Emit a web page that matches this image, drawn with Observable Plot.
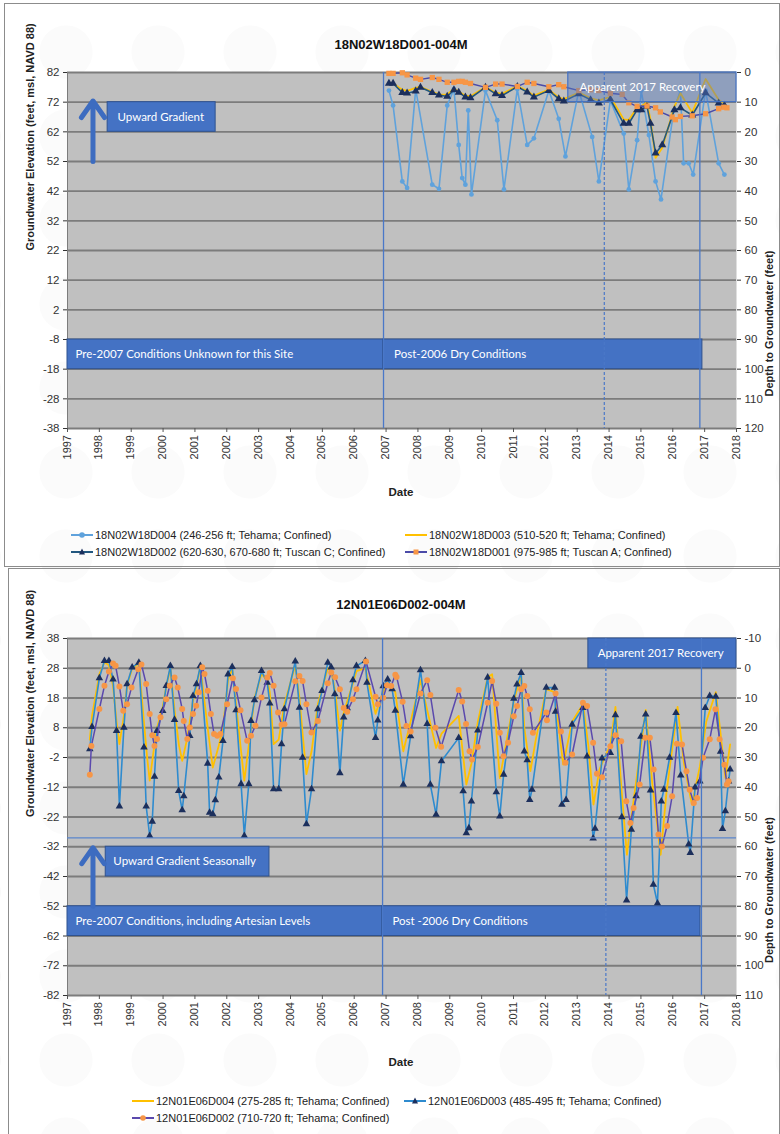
<!DOCTYPE html>
<html><head><meta charset="utf-8">
<script src="https://cdn.jsdelivr.net/npm/d3@7"></script>
<script src="https://cdn.jsdelivr.net/npm/@observablehq/plot@0.6"></script>
<style>
body{margin:0;width:780px;height:1134px;position:relative;overflow:hidden;background-color:#fff;
 background-image:radial-gradient(circle, #f5f5f5 0 26px, transparent 27px);background-size:92px 84px;background-position:20px 10px;
 font-family:"Liberation Sans",Arial,sans-serif}
.panel{position:absolute;border:1px solid #8c8c8c;box-sizing:border-box;background:rgba(255,255,255,0.55)}
.title{position:absolute;font-weight:bold;font-size:13px;text-align:center;color:#111;width:300px}
.date{position:absolute;font-weight:bold;font-size:11.5px;text-align:center;color:#222;width:100px}
.leg{position:absolute;font-size:11px;color:#222;display:flex;align-items:center;white-space:nowrap;height:14px}
.leg svg{margin-right:1px}
.chart{position:absolute;left:0;width:780px;height:480px}
.chart svg{position:absolute;left:0;top:0}
.yl{position:absolute;width:13px;line-height:13px;font-size:11px;color:#333;white-space:nowrap;writing-mode:vertical-rl;transform:rotate(180deg)}
</style></head><body>
<div class="panel" style="left:4px;top:3px;width:776px;height:564px"></div>
<div class="panel" style="left:8px;top:568px;width:772px;height:570px"></div>
<div id="top" class="chart" style="top:0px"></div>
<div id="bot" class="chart" style="top:568px"></div>
<div class="title" style="left:251px;top:37px">18N02W18D001-004M</div>
<div class="title" style="left:251px;top:597px">12N01E06D002-004M</div>
<div class="date" style="left:351px;top:486px">Date</div>
<div class="date" style="left:351px;top:1056px">Date</div>
<div id="legends"></div>
<script>
// ---------- shared axis ticks ----------
const yearLabels = ["1997","1998","1999","2000","2001","2002","2003","2004","2005","2006","2007","2008","2009","2010","2011","2012","2013","2014","2015","2016","2017","2018"];
const topElevTicks = [82,72,62,52,42,32,22,12,2,-8,-18,-28,-38];
const topDepthLabels = ["0","10","20","30","40","50","60","70","80","90","100","110","120"];
const botElevTicks = [38,28,18,8,-2,-12,-22,-32,-42,-52,-62,-72,-82];
const botDepthLabels = ["-10","0","10","20","30","40","50","60","70","80","90","100","110"];

// ---------- top chart series: [decimal year, elevation ft] ----------
const top_D004 = [[2007.09,75.9],[2007.22,70.9],[2007.51,45.3],[2007.66,43.1],[2007.93,76.4],[2008.45,44.2],[2008.66,42.8],[2008.92,70.9],[2009.13,76.4],[2009.28,57.6],[2009.39,46.4],[2009.49,44.2],[2009.58,69.2],[2009.68,40.9],[2010.12,75.9],[2010.49,65.9],[2010.7,42.6],[2011.12,76.4],[2011.43,57.6],[2011.64,59.8],[2012.11,75.9],[2012.42,66.4],[2012.63,53.7],[2013.05,75.9],[2013.47,60.3],[2013.68,45.3],[2014.04,72.6],[2014.46,61.4],[2014.62,42.6],[2014.88,59.2],[2015.01,75.9],[2015.25,60.9],[2015.46,45.3],[2015.63,39.2],[2016.03,69.2],[2016.24,75.9],[2016.34,51.4],[2016.5,51.4],[2016.64,47.6],[2017.03,75.9],[2017.44,51.4],[2017.62,47.6]];
const top_D003 = [[2007.09,78.5],[2007.22,78.3],[2007.51,76.2],[2007.66,75.8],[2007.93,76.8],[2008.08,77.2],[2008.45,75.5],[2008.66,74.6],[2008.92,74.5],[2009.13,76.6],[2009.28,75.6],[2009.49,74.2],[2009.65,74.0],[2010.12,77.1],[2010.44,75.2],[2010.64,74.8],[2011.12,77.4],[2011.43,75.8],[2011.64,74.2],[2012.11,76.2],[2012.42,73.6],[2012.58,73.0],[2013.05,75.2],[2013.42,73.4],[2013.68,72.6],[2014.04,73.8],[2014.46,66.2],[2014.62,66.0],[2014.88,70.2],[2015.01,70.6],[2015.19,72.0],[2015.3,66.0],[2015.46,53.2],[2015.67,56.6],[2016.05,70.5],[2016.24,75.0],[2016.61,68.4],[2017.03,79.8],[2017.44,72.8],[2017.62,71.5]];
const top_D002 = [[2007.09,78.3],[2007.22,78.3],[2007.51,75.2],[2007.66,75.0],[2007.93,75.7],[2008.08,77.0],[2008.45,75.2],[2008.66,74.4],[2008.92,73.9],[2009.13,76.1],[2009.28,75.3],[2009.49,73.7],[2009.65,73.4],[2010.12,77.0],[2010.44,74.8],[2010.64,74.2],[2011.12,77.2],[2011.43,75.4],[2011.64,73.7],[2012.11,75.9],[2012.42,73.1],[2012.58,72.3],[2013.05,74.8],[2013.42,72.8],[2013.68,71.7],[2014.04,72.9],[2014.46,64.8],[2014.62,64.8],[2014.88,69.4],[2015.01,69.4],[2015.19,70.6],[2015.3,64.8],[2015.46,54.8],[2015.67,57.6],[2016.05,69.4],[2016.24,70.1],[2016.61,67.6],[2017.03,75.1],[2017.44,71.7],[2017.62,70.9]];
const top_D001 = [[2007.09,81.7],[2007.22,81.7],[2007.51,81.9],[2007.66,81.2],[2007.93,80.1],[2008.08,79.7],[2008.45,80.3],[2008.66,79.7],[2008.92,78.7],[2009.13,78.7],[2009.28,79.0],[2009.39,79.0],[2009.49,78.7],[2009.65,78.3],[2010.12,77.0],[2010.44,78.1],[2010.64,78.1],[2011.12,77.3],[2011.43,78.7],[2011.64,78.3],[2012.11,77.2],[2012.42,77.9],[2012.58,77.2],[2013.05,75.9],[2013.42,76.2],[2013.68,75.9],[2014.04,75.0],[2014.41,74.6],[2014.62,71.8],[2014.88,70.6],[2015.19,70.7],[2015.46,70.1],[2015.61,68.7],[2015.98,67.0],[2016.08,66.1],[2016.24,67.2],[2016.61,67.4],[2017.03,68.1],[2017.44,69.8],[2017.6,70.3],[2017.7,70.1]];

// ---------- bottom chart series ----------
const bot_D004 = [[1997.70,4],[1997.77,12],[1998.00,26],[1998.16,30],[1998.30,29],[1998.43,22],[1998.54,10],[1998.63,2.5],[1998.77,12],[1998.87,22],[1999.03,28],[1999.24,29.5],[1999.40,10],[1999.50,-2],[1999.58,-9.8],[1999.70,0],[1999.81,8],[1999.99,15],[2000.10,22],[2000.23,28],[2000.36,14],[2000.50,2],[2000.60,-3.1],[2000.75,4],[2000.94,17],[2001.05,22],[2001.17,28.5],[2001.40,8],[2001.56,-5.4],[2001.75,2],[2001.88,8],[2002.04,24],[2002.17,28],[2002.29,16],[2002.45,0],[2002.55,-9.8],[2002.69,2],[2002.87,18],[2003.09,26],[2003.27,24],[2003.35,20],[2003.47,2.5],[2003.63,4],[2003.81,16],[2004.15,29],[2004.28,18],[2004.38,6],[2004.50,-7.6],[2004.66,0],[2004.86,16],[2005.17,28],[2005.28,27],[2005.39,21],[2005.55,7],[2005.67,13],[2005.96,23],[2006.07,27],[2006.35,28],[2006.67,12.7],[2006.91,20],[2007.05,23],[2007.29,20],[2007.54,0.1],[2007.77,10],[2008.08,24],[2008.29,14],[2008.57,1.2],[2008.74,6],[2009.28,12],[2009.52,-11.1],[2009.68,-4],[2009.88,10],[2010.19,25],[2010.33,26],[2010.57,-8.9],[2010.69,-2],[2011.01,17],[2011.24,26],[2011.34,8],[2011.53,-6.6],[2011.7,4],[2012.03,21],[2012.29,20],[2012.56,-4.4],[2012.84,10],[2013.18,16],[2013.35,2],[2013.51,-17.8],[2013.7,-6],[2013.9,-1],[2014.04,2],[2014.2,15],[2014.4,-14],[2014.56,-34.7],[2014.7,-22],[2014.85,-10],[2015.15,14],[2015.35,-10],[2015.62,-34.7],[2015.8,-14],[2016.15,15],[2016.35,-4],[2016.6,-17.8],[2016.85,-5],[2017.05,10],[2017.35,20],[2017.5,6],[2017.65,-8.9],[2017.8,2.4]];
const bot_D003 = [[1997.70,0.8],[1997.77,8.3],[1998.00,24.7],[1998.16,30.5],[1998.30,30.5],[1998.43,24.3],[1998.54,7],[1998.63,-18.4],[1998.77,8.1],[1998.87,22.7],[1999.03,28.3],[1999.24,29.9],[1999.40,1.4],[1999.47,-18.4],[1999.58,-28.3],[1999.66,-23.5],[1999.73,-8.4],[1999.81,7],[1999.99,13.7],[2000.10,22.1],[2000.23,28.8],[2000.36,10.7],[2000.49,-13.2],[2000.60,-19.7],[2000.65,-15],[2000.84,5.3],[2000.94,18.7],[2001.05,22.7],[2001.17,28.8],[2001.40,-4],[2001.46,-20.5],[2001.56,-21],[2001.64,-16.3],[2001.75,-8.7],[2001.88,3.6],[2002.04,26],[2002.17,28.5],[2002.29,13.9],[2002.45,-10.9],[2002.55,-28.3],[2002.69,-10.9],[2002.76,10.3],[2002.87,17.3],[2003.09,27.1],[2003.27,23.2],[2003.35,16.2],[2003.47,-12.6],[2003.63,-12.6],[2003.72,2.5],[2003.81,14.3],[2004.15,30.3],[2004.28,14.8],[2004.38,-2],[2004.50,-24.4],[2004.66,-12.6],[2004.86,14.3],[2004.99,20.4],[2005.17,29.9],[2005.28,28.3],[2005.39,19.3],[2005.55,-7.2],[2005.67,11.5],[2005.78,14.6],[2005.96,24],[2006.07,28.8],[2006.35,30.5],[2006.40,23.2],[2006.67,4.6],[2006.74,10.5],[2006.91,22],[2007.05,24.3],[2007.19,21],[2007.29,13.8],[2007.54,-11.1],[2007.77,5.2],[2008.08,27.4],[2008.29,9.3],[2008.39,-11.1],[2008.57,-21.2],[2008.74,-3.2],[2009.28,4.6],[2009.42,-13.3],[2009.52,-27.4],[2009.60,-25.7],[2009.68,-16.7],[2009.88,7.1],[2010.19,24.9],[2010.46,-13.6],[2010.57,-21.8],[2010.69,-7.7],[2011.01,17.8],[2011.11,22.6],[2011.24,26.5],[2011.34,0.1],[2011.43,-2.9],[2011.51,-16.2],[2011.58,-12.8],[2012.03,21.5],[2012.29,21.5],[2012.32,13.4],[2012.52,-17.8],[2012.65,-16.2],[2012.84,9.1],[2013.18,14.7],[2013.31,-1.6],[2013.50,-29.2],[2013.56,-25.9],[2013.78,-2.3],[2014.04,-0.4],[2014.2,12.3],[2014.4,-22],[2014.55,-50],[2014.7,-26.2],[2014.85,-15],[2015.0,5],[2015.15,12.5],[2015.3,-13],[2015.39,-44.7],[2015.52,-51],[2015.64,-16.7],[2015.72,-12.8],[2015.9,-2],[2016.1,13],[2016.25,-8],[2016.5,-31.2],[2016.55,-34],[2016.7,-12],[2016.85,-10],[2017.02,14.7],[2017.16,18.7],[2017.35,18.5],[2017.5,0],[2017.56,-26],[2017.65,-20],[2017.75,-10],[2017.8,-6]];
const bot_D002 = [[1997.70,-7.8],[1997.75,1.9],[1998.00,14.3],[1998.16,22.1],[1998.30,26.9],[1998.43,29.6],[1998.51,28.8],[1998.63,21.9],[1998.75,13.7],[1998.87,15.9],[1999.01,21.5],[1999.22,27.7],[1999.32,29.3],[1999.47,22.7],[1999.58,12.6],[1999.66,5.5],[1999.73,1.9],[1999.81,4.2],[1999.92,11.5],[2000.10,17.6],[2000.21,22.1],[2000.36,24.9],[2000.46,21.5],[2000.60,14.3],[2000.65,10.3],[2000.76,4.2],[2000.84,8.1],[2000.94,12.6],[2001.04,15.4],[2001.12,19.9],[2001.23,28.3],[2001.30,26.1],[2001.40,20.4],[2001.50,12.6],[2001.60,5.9],[2001.70,5.3],[2001.80,5.9],[2002.01,15.9],[2002.19,24.6],[2002.29,21],[2002.43,13.9],[2002.64,3.6],[2002.76,5.3],[2002.9,8.7],[2003.09,18.2],[2003.27,24.9],[2003.35,26.4],[2003.47,22.1],[2003.61,13.1],[2003.72,9],[2003.81,9.2],[2004.15,23.6],[2004.28,25.4],[2004.38,23.7],[2004.5,15.9],[2004.66,6.4],[2004.86,10.3],[2005.17,23],[2005.28,26.6],[2005.4,25],[2005.55,20.9],[2005.67,14.6],[2005.78,13.4],[2005.96,17.6],[2006.07,20.9],[2006.37,30.3],[2006.67,18.4],[2006.74,15.9],[2006.91,18.1],[2007.03,22.3],[2007.16,22],[2007.29,25.8],[2007.33,25.1],[2007.52,16.7],[2007.64,8.6],[2007.77,6.7],[2008.08,19.5],[2008.29,24],[2008.39,19],[2008.55,8],[2008.73,1.6],[2009.28,20.7],[2009.39,16.8],[2009.51,9.3],[2009.62,0.1],[2009.70,-2.7],[2009.88,1.5],[2010.19,16.4],[2010.33,23.7],[2010.46,16.1],[2010.57,6.3],[2010.69,-1.6],[2010.83,3],[2011.01,11.9],[2011.11,15.3],[2011.24,20.9],[2011.34,22],[2011.43,18.7],[2011.51,14.2],[2011.61,6.3],[2012.03,13.1],[2012.05,10.5],[2012.32,19.5],[2012.49,6.7],[2012.63,-3.8],[2012.84,-1],[2013.18,16.4],[2013.31,15.3],[2013.5,3],[2013.62,-7.5],[2013.78,-8.6],[2014.04,1.8],[2014.2,5.5],[2014.38,3.5],[2014.54,-16.7],[2014.67,-24],[2014.77,-19],[2014.96,-11.1],[2015.14,4.6],[2015.28,4.6],[2015.4,-6],[2015.55,-27.9],[2015.66,-31.9],[2015.82,-25],[2015.98,-15],[2016.13,2.6],[2016.29,2.4],[2016.43,-6.6],[2016.53,-12.8],[2016.66,-17.3],[2016.76,-15.6],[2016.95,-2.1],[2017.16,4.1],[2017.34,14.2],[2017.47,4.1],[2017.62,-4.4],[2017.7,-11.1],[2017.75,-10]];

// ---------- annotations (data units: year, elevation) ----------
const topSolidBoxes = [{x1:1998.26,x2:2001.65,y1:62,y2:72},{x1:1997,x2:2006.92,y1:-18,y2:-8},{x1:2006.92,x2:2016.93,y1:-18,y2:-8}];
const topGlassBoxes = [{x1:2012.72,x2:2018,y1:72,y2:82}];
const topLabels = [{x:1998.57,y:67,text:"Upward Gradient",anchor:"start"},{x:1997.25,y:-13,text:"Pre-2007 Conditions Unknown for this Site",anchor:"start"},{x:2007.25,y:-13,text:"Post-2006 Dry Conditions",anchor:"start"},{x:2015.05,y:77,text:"Apparent 2017 Recovery",anchor:"middle"}];
const topArrows = [{x:1997.8,y1:52,y2:72.4}];
const topRulesSolid = [2006.92,2016.85];
const topRulesDashed = [2013.85];
const topHRules = [];

const botSolidBoxes = [{x1:2013.35,x2:2018,y1:28,y2:38},{x1:1998.2,x2:2003.34,y1:-42,y2:-32},{x1:1997,x2:2006.89,y1:-62,y2:-52},{x1:2006.89,x2:2016.87,y1:-62,y2:-52}];
const botGlassBoxes = [];
const botLabels = [{x:2015.62,y:33,text:"Apparent 2017 Recovery",anchor:"middle"},{x:1998.44,y:-37,text:"Upward Gradient Seasonally",anchor:"start"},{x:1997.25,y:-57,text:"Pre-2007 Conditions, including Artesian Levels",anchor:"start"},{x:2007.2,y:-57,text:"Post -2006 Dry Conditions",anchor:"start"}];
const botArrows = [{x:1997.8,y1:-52,y2:-32.3}];
const botRulesSolid = [2006.89,2016.9];
const botRulesDashed = [2013.9];
const botHRules = [-29];

// ---------- series styles ----------
const topSeries = [
  {data:top_D004, name:"18N02W18D004 (246-256 ft; Tehama; Confined)", line:"#5fa2dc", w:1.6, symbol:"circle", mfill:"#5fa2dc", r:2.4},
  {data:top_D003, name:"18N02W18D003 (510-520 ft; Tehama; Confined)", line:"#ffc000", w:1.8, symbol:null},
  {data:top_D002, name:"18N02W18D002 (620-630, 670-680 ft; Tuscan C; Confined)", line:"#22577f", w:1.6, symbol:"triangle", mfill:"#1c2f5c", r:3},
  {data:top_D001, name:"18N02W18D001 (975-985 ft; Tuscan A; Confined)", line:"#4b4ba8", w:1.4, symbol:"square", mfill:"#f79646", r:3}
];
const botSeries = [
  {data:bot_D004, name:"12N01E06D004 (275-285 ft; Tehama; Confined)", line:"#ffc000", w:1.8, symbol:null},
  {data:bot_D003, name:"12N01E06D003 (485-495 ft; Tehama; Confined)", line:"#2e8bcf", w:1.6, symbol:"triangle", mfill:"#1c2f5c", r:2.8},
  {data:bot_D002, name:"12N01E06D002 (710-720 ft; Tehama; Confined)", line:"#5b49ad", w:1.5, symbol:"circle", mfill:"#f79646", r:3}
];

const FONT = '"Liberation Sans", Arial, sans-serif';
const NOTE_FONT = 'Lato, "Open Sans", sans-serif';
const yearTicks = yearLabels.map(Number);

function chart(o) {
  const yBottom = o.ticks[o.ticks.length-1];
  const marks = [
    Plot.frame({fill:"#c0c0c0"}),
    Plot.ruleY(o.ticks, {stroke:"#7c7c7c", strokeWidth:1.8}),
    Plot.ruleX([1997], {stroke:"#7c7c7c", strokeWidth:1}),
    Plot.ruleX(yearTicks, {y1:yBottom, y2:yBottom, insetBottom:-4, stroke:"#555", strokeWidth:1}),
    Plot.axisY(o.ticks, {anchor:"left", tickSize:4, tickPadding:4, tickFormat:d => String(d), fontSize:11.5, fill:"#333", label:null}),
    Plot.axisY(o.ticks, {anchor:"right", tickSize:4, tickPadding:4, tickFormat:d => o.depth[o.ticks.indexOf(d)], fontSize:11.5, fill:"#333", label:null}),
    Plot.text(["Groundwater Elevation (feet, msl, NAVD 88)"], {frameAnchor:"left", text:d => d, rotate:-90, dx:-37, fontWeight:"bold", fontSize:11, fill:"#222"}),
    Plot.text(["Depth to Groundwater (feet)"], {frameAnchor:"right", text:d => d, rotate:-90, dx:33, fontWeight:"bold", fontSize:11, fill:"#222"})
  ];
  for (const s of o.series) {
    marks.push(Plot.line(s.data, {x:d => d[0], y:d => d[1], stroke:s.line, strokeWidth:s.w}));
    if (s.symbol) marks.push(Plot.dot(s.data, {x:d => d[0], y:d => d[1], symbol:s.symbol, r:s.r, fill:s.mfill, stroke:"none"}));
  }
  marks.push(
    Plot.rect(o.solid, {x1:"x1", x2:"x2", y1:"y1", y2:"y2", fill:"#4472c4", stroke:"#2f528f", strokeWidth:1}),
    Plot.rect(o.glass, {x1:"x1", x2:"x2", y1:"y1", y2:"y2", fill:"#5577bb", fillOpacity:0.45, stroke:"#4472c4", strokeWidth:1.2}),
    Plot.ruleY(o.hrules, {stroke:"#5a86cc", strokeWidth:1.3}),
    Plot.ruleX(o.rulesSolid, {stroke:"#4a78c8", strokeWidth:1.3}),
    Plot.ruleX(o.rulesDashed, {stroke:"#4a78c8", strokeWidth:1.2, strokeDasharray:"3,2"}),
    Plot.arrow(o.arrows, {x1:"x", x2:"x", y1:"y1", y2:"y2", stroke:"#3d6cc0", strokeWidth:5, headLength:10, headAngle:70}),
    Plot.text(o.labels.filter(d => d.anchor === "start"), {x:"x", y:"y", text:"text", textAnchor:"start", fill:"white", fontSize:11.5, fontFamily:NOTE_FONT}),
    Plot.text(o.labels.filter(d => d.anchor === "middle"), {x:"x", y:"y", text:"text", textAnchor:"middle", fill:"white", fontSize:11.5, fontFamily:NOTE_FONT})
  );
  const svg = Plot.plot({
    width:780, height:480,
    marginLeft:67, marginRight:44, marginTop:o.mt, marginBottom:480 - o.bottom,
    x:{domain:[1997,2018], axis:null},
    y:{domain:[yBottom, o.ticks[0]], axis:null},
    style:{background:"transparent", fontFamily:FONT, fontSize:"11px", color:"#333", overflow:"visible"},
    marks
  });
  const host = document.getElementById(o.host);
  host.append(svg);
  // vertical year tick labels, placed with the chart's own x/y scales
  const sx = svg.scale("x"), sy = svg.scale("y");
  const top = sy.apply(yBottom) + 7;
  for (const t of yearTicks) {
    const d = document.createElement("div");
    d.className = "yl";
    d.textContent = yearLabels[yearTicks.indexOf(t)];
    d.style.left = (sx.apply(t) - 6.5) + "px";
    d.style.top = top + "px";
    host.append(d);
  }
}

chart({
  host:"top", ticks:topElevTicks, depth:topDepthLabels, series:topSeries, mt:72, bottom:428,
  solid:topSolidBoxes, glass:topGlassBoxes, labels:topLabels, arrows:topArrows,
  rulesSolid:topRulesSolid, rulesDashed:topRulesDashed, hrules:topHRules
});
chart({
  host:"bot", ticks:botElevTicks, depth:botDepthLabels, series:botSeries, mt:70, bottom:427,
  solid:botSolidBoxes, glass:botGlassBoxes, labels:botLabels, arrows:botArrows,
  rulesSolid:botRulesSolid, rulesDashed:botRulesDashed, hrules:botHRules
});

// ---------- legends ----------
function swatch(s) {
  let m = "";
  if (s.symbol === "circle") m = `<circle cx="12" cy="5" r="2.8" fill="${s.mfill}"/>`;
  if (s.symbol === "square") m = `<rect x="9.5" y="2.5" width="5" height="5" fill="${s.mfill}"/>`;
  if (s.symbol === "triangle") m = `<path d="M12,1.5L15,7.5L9,7.5Z" fill="${s.mfill}"/>`;
  return `<svg width="24" height="10"><line x1="1" y1="5" x2="23" y2="5" stroke="${s.line}" stroke-width="2"/>${m}</svg>`;
}
const legendSlots = [
  [topSeries[0], 70, 528], [topSeries[1], 404, 528], [topSeries[2], 70, 545], [topSeries[3], 404, 545],
  [botSeries[0], 131, 1094], [botSeries[1], 403, 1094], [botSeries[2], 131, 1111]
];
document.getElementById("legends").innerHTML = legendSlots.map(([s, x, y]) =>
  `<div class="leg" style="left:${x}px;top:${y}px">${swatch(s)}<span>${s.name}</span></div>`).join("");
</script>
</body></html>
